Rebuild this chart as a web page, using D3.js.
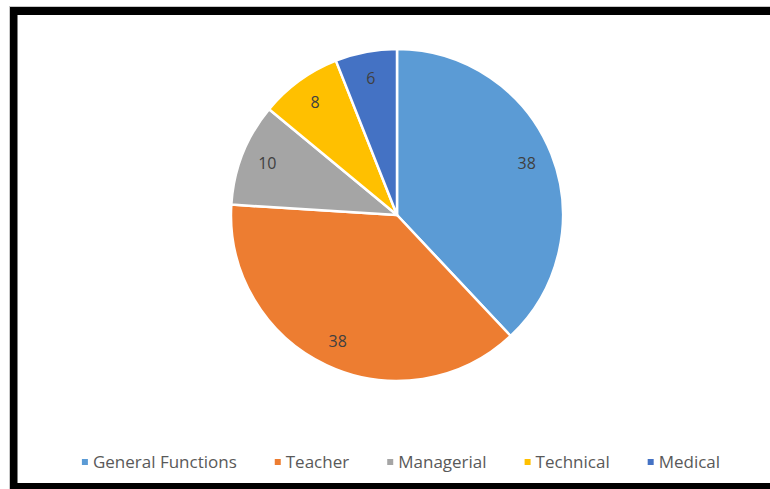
<!DOCTYPE html>
<html>
<head>
<meta charset="utf-8">
<script src="https://cdn.jsdelivr.net/npm/d3@7"></script>
<style>
  html, body { margin: 0; padding: 0; background: #fff; }
  svg { display: block; }
</style>
</head>
<body>
<svg id="chart" width="770" height="489"></svg>
<script>
// Staff by function (count per category)
const categories = ["General Functions", "Teacher", "Managerial", "Technical", "Medical"];
const values = [38, 38, 10, 8, 6];
const colors = ["#5B9BD5", "#ED7D31", "#A5A5A5", "#FFC000", "#4472C4"];

const W = 770, H = 489;
const svg = d3.select("#chart");

// Frame: heavy black rule along top, left and bottom edges
const frame = svg.append("g");
frame.append("rect").attr("x", 9).attr("y", 6).attr("width", W - 9).attr("height", 1).attr("fill", "#c8c8c8");
frame.append("rect").attr("x", 9).attr("y", 6).attr("width", 1).attr("height", H - 6).attr("fill", "#c8c8c8");
frame.append("rect").attr("x", 10).attr("y", 7).attr("width", W - 10).attr("height", 8).attr("fill", "#000");
frame.append("rect").attr("x", 10).attr("y", 7).attr("width", 7.5).attr("height", H - 7).attr("fill", "#000");
frame.append("rect").attr("x", 10).attr("y", 483).attr("width", W - 10).attr("height", 6).attr("fill", "#000");

// Pie
const cx = 397, cy = 215, r = 166;
const color = d3.scaleOrdinal().domain(categories).range(colors);
const pie = d3.pie().sort(null).value(d => d.value);
const data = categories.map((c, i) => ({ name: c, value: values[i] }));
const arcs = pie(data);
const arc = d3.arc().innerRadius(0).outerRadius(r);
const labelArc = d3.arc().innerRadius(r * 0.84).outerRadius(r * 0.84);

const g = svg.append("g").attr("transform", `translate(${cx},${cy})`);
g.selectAll("path.slice")
  .data(arcs)
  .join("path")
  .attr("class", "slice")
  .attr("d", arc)
  .attr("fill", d => color(d.data.name))
  .attr("stroke", "#fff")
  .attr("stroke-width", 2.5)
  .attr("stroke-linejoin", "round");

g.selectAll("text.lbl")
  .data(arcs)
  .join("text")
  .attr("class", "lbl")
  .attr("transform", d => `translate(${labelArc.centroid(d)})`)
  .attr("text-anchor", "middle")
  .attr("dy", "0.35em")
  .attr("font-family", "'Open Sans', 'Liberation Sans', sans-serif")
  .attr("font-size", 16)
  .attr("fill", "#404040")
  .text(d => d.data.value);

// Legend, laid out from measured text widths and centred under the pie
const legend = svg.append("g").attr("font-family", "'Open Sans', 'Liberation Sans', sans-serif")
  .attr("font-size", 17).attr("fill", "#595959");
const items = legend.selectAll("g.item").data(categories).join("g").attr("class", "item");
items.append("rect").attr("width", 6).attr("height", 6).attr("y", -3).attr("fill", d => color(d));
items.append("text").attr("x", 11).attr("dy", "0.35em").text(d => d);

const gap = 38;
const widths = [];
items.each(function () { widths.push(this.getBBox().width); });
const total = d3.sum(widths) + gap * (widths.length - 1);
let x = 401 - total / 2;
items.each(function (d, i) {
  d3.select(this).attr("transform", `translate(${x},462)`);
  x += widths[i] + gap;
});
</script>
</body>
</html>
